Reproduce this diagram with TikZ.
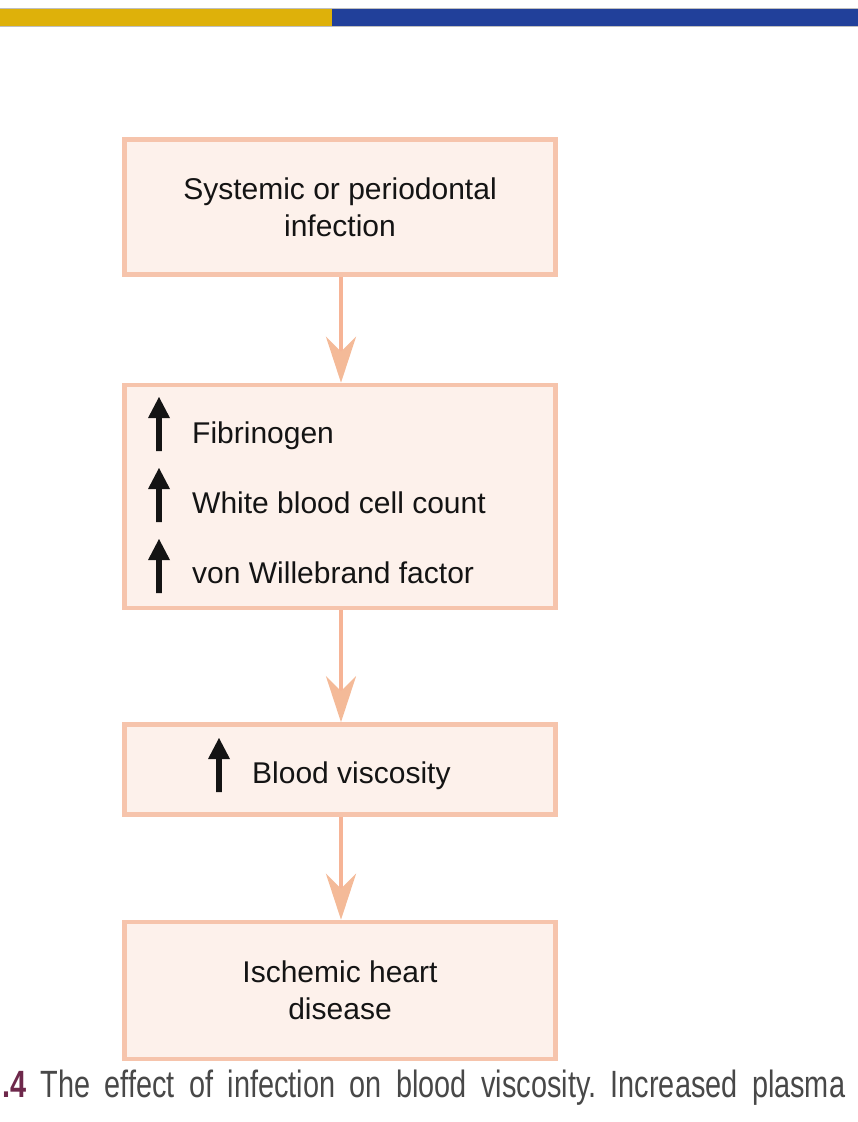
\documentclass[tikz,border=0pt]{standalone}
\usepackage{fontspec}
\usepackage{graphicx}
\setmainfont{Liberation Sans}
\newfontfamily\capfont[FakeStretch=0.76]{Liberation Sans}
\usetikzlibrary{arrows.meta}
\definecolor{baryellow}{RGB}{222,177,10}
\definecolor{barblue}{RGB}{33,64,154}
\definecolor{boxedge}{RGB}{246,196,172}
\definecolor{boxfill}{RGB}{253,241,235}
\definecolor{linkcol}{RGB}{246,180,150}
\definecolor{headcol}{RGB}{244,186,152}
\definecolor{capnum}{RGB}{110,40,75}
\definecolor{captext}{RGB}{72,72,72}
\tikzset{
  flowbox/.style={draw=boxedge, fill=boxfill, line width=4.5pt, minimum width=431pt, inner sep=0pt,
    font=\fontsize{30}{37}\selectfont, text=black!92, align=center},
  itemtext/.style={anchor=base west, inner sep=0pt, font=\fontsize{30}{36}\selectfont, text=black!92},
  link/.style={draw=linkcol, line width=4pt, -{Stealth[length=46pt, width=30pt, inset=15pt, fill=headcol, color=headcol]}},
  uparrow/.pic={\fill[black!92] (-2.8,0) -- (-2.8,-33) -- (-11,-33) -- (0,-54) -- (11,-33) -- (2.8,-33) -- (2.8,0) -- cycle;}
}
\begin{document}
\begin{tikzpicture}[x=1pt, y=-1pt]
\useasboundingbox (0,0) rectangle (858,1122);
% top bar
\fill[baryellow] (0,9) rectangle (332,25.5);
\fill[barblue] (332,9) rectangle (858,25.5);
\draw[black!25, line width=0.6pt] (0,8.5) -- (858,8.5) (0,26) -- (858,26);
% boxes
\node[flowbox, minimum height=135pt] (b1) at (340,207) {Systemic or periodontal\\infection};
\node[flowbox, minimum height=223pt] (b2) at (340,496.5) {};
\node[flowbox, minimum height=90pt] (b3) at (340,769.5) {};
\node[flowbox, minimum height=137pt] (b4) at (340,990.5) {Ischemic heart\\disease};
% box 2 items
\node[itemtext] (t1) at (192,443) {Fibrinogen};
\node[itemtext] (t2) at (192,513) {White blood cell count};
\node[itemtext] (t3) at (192,583) {von Willebrand factor};
\pic at (159,451) {uparrow};
\pic at (159,522) {uparrow};
\pic at (159,593) {uparrow};
% box 3 item
\node[itemtext] (t4) at (252,783) {Blood viscosity};
\pic at (219,792) {uparrow};
% connectors
\draw[link] ([xshift=1pt]b1.south) -- ([xshift=1pt]b2.north);
\draw[link] ([xshift=1pt]b2.south) -- ([xshift=1pt]b3.north);
\draw[link] ([xshift=1pt]b3.south) -- ([xshift=1pt]b4.north);
% caption
\node[anchor=base west, inner sep=0pt] (cap) at (2,1097)
  {\frenchspacing\makebox[843pt][s]{\fontsize{38}{40}\capfont\textcolor{capnum}{\textbf{.4}} \textcolor{captext}{The effect of infection on blood viscosity. Increased plasma}}};
\end{tikzpicture}
\end{document}
